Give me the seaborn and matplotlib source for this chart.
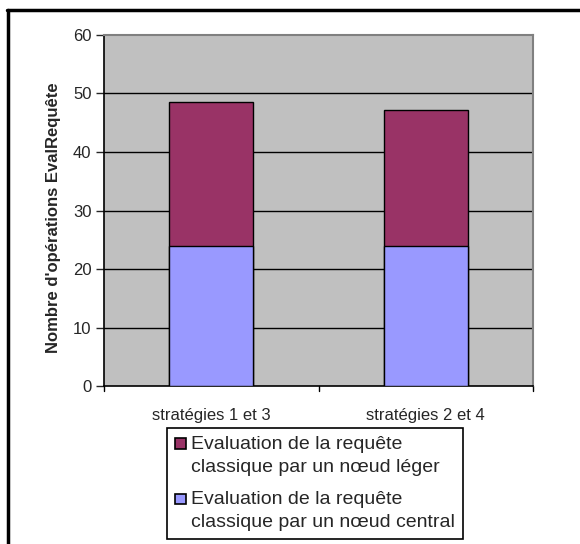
import pandas as pd
import numpy as np
import matplotlib.pyplot as plt
import seaborn as sns
from matplotlib.patches import Patch, Rectangle
from matplotlib.lines import Line2D
from matplotlib.legend_handler import HandlerPatch

sns.set_style("white")
plt.rcParams['font.family'] = ['Liberation Sans', 'DejaVu Sans']

# data
strategies = ["stratégies 1 et 3", "stratégies 2 et 4"]
noeud_central = [24.0, 24.0]
noeud_leger = [24.6, 23.2]
series_labels = ["Evaluation de la requête\nclassique par un nœud léger",
                 "Evaluation de la requête\nclassique par un nœud central"]
y_ticks = [0, 10, 20, 30, 40, 50, 60]

color_leger = "#993366"
color_central = "#9999FF"

df = pd.DataFrame({"Strategie": strategies,
                   "Central": noeud_central,
                   "Leger": noeud_leger})
df["Total"] = df["Central"] + df["Leger"]

fig = plt.figure(figsize=(5.8, 5.44), dpi=100)
ax = fig.add_axes([0.1793, 0.2904, 0.7397, 0.6453])
ax.set_facecolor("#C0C0C0")

# grid lines behind bars
for t in y_ticks[1:-1]:
    ax.axhline(t, color="black", lw=1.0, zorder=0.5)

# stacked bars: total first, central part on top of it
sns.barplot(data=df, x="Strategie", y="Total", color=color_leger, width=0.39,
            edgecolor="black", linewidth=1.0, saturation=1, ax=ax, zorder=2)
sns.barplot(data=df, x="Strategie", y="Central", color=color_central, width=0.39,
            edgecolor="black", linewidth=1.0, saturation=1, ax=ax, zorder=3)

ax.set_xlim(-0.5, 1.5)
ax.set_ylim(0, 60)
ax.set_yticks(y_ticks)
ax.tick_params(axis="y", direction="out", length=6, width=1, labelsize=12, pad=3, left=True)
ax.set_xticks([0, 1])
ax.set_xticklabels(strategies, fontsize=12)
ax.tick_params(axis="x", length=0, pad=16)
for xb in [-0.5, 0.5, 1.5]:
    ax.plot([xb, xb], [0, -0.014], transform=ax.get_xaxis_transform(),
            color="black", lw=1, clip_on=False)

ax.set_xlabel("")
ax.set_ylabel("Nombre d'opérations EvalRequête", fontsize=12, fontweight="bold")
ax.yaxis.set_label_coords(-0.10, 0.48)

for side in ["left", "bottom"]:
    ax.spines[side].set_color("black")
    ax.spines[side].set_linewidth(1.2)
for side in ["top", "right"]:
    ax.spines[side].set_color("#808080")
    ax.spines[side].set_linewidth(1.5)


# legend square sits next to the first line of each two-line label
def top_square(legend, orig_handle, xdescent, ydescent, width, height, fontsize):
    side = 0.55 * fontsize
    return Rectangle((-xdescent + (width - side) / 2, -ydescent + height - side + 0.06 * fontsize),
                     side, side)


handles = [Patch(facecolor=color_leger, edgecolor="black", lw=1.2),
           Patch(facecolor=color_central, edgecolor="black", lw=1.2)]
leg = fig.legend(handles, series_labels, loc="upper left",
                 bbox_to_anchor=(0.288, 0.2132), borderaxespad=0,
                 fancybox=False, edgecolor="black", framealpha=1,
                 fontsize=14, handlelength=0.55, handleheight=2.3,
                 handletextpad=0.3, labelspacing=0.8, borderpad=0.4,
                 handler_map={Patch: HandlerPatch(patch_func=top_square)})
leg.get_frame().set_linewidth(1.2)
for txt in leg.get_texts():
    txt.set_linespacing(1.45)

# outer frame lines (top and left)
fig.add_artist(Line2D([0.012, 1.0], [0.981, 0.981], color="black", lw=2.5,
                      transform=fig.transFigure))
fig.add_artist(Line2D([0.014, 0.014], [0.0, 0.981], color="black", lw=2.5,
                      transform=fig.transFigure))

fig.savefig("out.png", dpi=100)
